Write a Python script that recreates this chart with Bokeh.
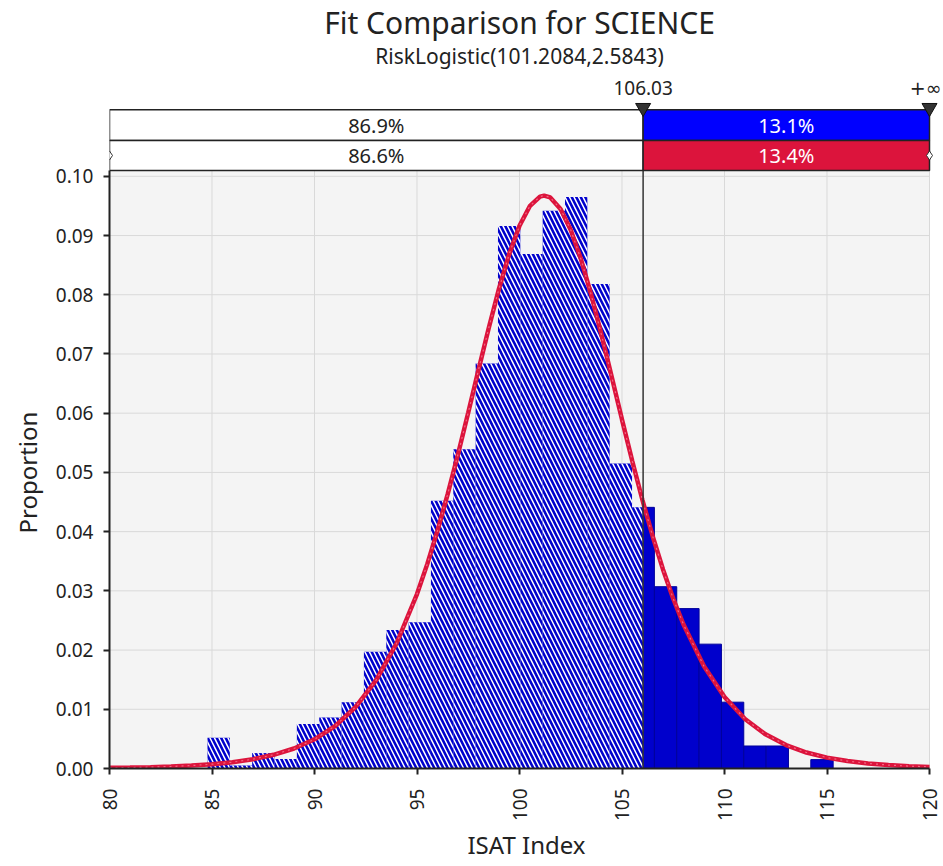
from math import pi
from bokeh.plotting import figure
from bokeh.models import Range1d, FixedTicker, NumeralTickFormatter, Label, Title
from bokeh.core.properties import value
from bokeh.embed import file_html
from bokeh.resources import INLINE

# ---------------- data ----------------
title_text = "Fit Comparison for SCIENCE"
subtitle_text = "RiskLogistic(101.2084,2.5843)"
x_label = "ISAT Index"
y_label = "Proportion"

cutoff = 106.03
cutoff_label = "106.03"
upper_label = "+\u221e"
data_pct = ["86.9%", "13.1%"]
fit_pct = ["86.6%", "13.4%"]

bin_first_edge = 84.78
bin_width = 1.09
bin_heights = [0.0052, 0.0005, 0.0026, 0.0016, 0.0075, 0.0086, 0.0112, 0.0197,
               0.0234, 0.0247, 0.0452, 0.0539, 0.0684, 0.0916, 0.0869, 0.0942,
               0.0965, 0.0818, 0.0515, 0.0441, 0.0307, 0.0270, 0.0210, 0.0112,
               0.0038, 0.0038, 0.0000, 0.0015]

curve_x = [80, 81, 82, 83, 84, 85, 86, 87, 88, 89, 90, 91, 92, 93, 94, 95, 95.5,
           96, 96.5, 97, 97.5, 98, 98.5, 99, 99.5, 100, 100.5, 101, 101.2, 101.5,
           102, 102.5, 103, 103.5, 104, 104.5, 105, 105.5, 106, 106.5, 107, 107.5,
           108, 109, 110, 111, 112, 113, 114, 115, 116, 117, 118, 119, 120]
curve_y = [0.00011, 0.00016, 0.00023, 0.00034, 0.00050, 0.00073, 0.00107, 0.00157,
           0.00231, 0.00338, 0.00493, 0.00717, 0.01037, 0.01489, 0.02111, 0.02945,
           0.03451, 0.04016, 0.04637, 0.05307, 0.06011, 0.06731, 0.07438, 0.08103,
           0.08690, 0.09164, 0.09495, 0.09658, 0.09674, 0.09643, 0.09450, 0.09094,
           0.08599, 0.07996, 0.07322, 0.06610, 0.05892, 0.05192, 0.04530, 0.03918,
           0.03362, 0.02867, 0.02431, 0.01725, 0.01207, 0.00837, 0.00577, 0.00396,
           0.00270, 0.00184, 0.00126, 0.00086, 0.00058, 0.00040, 0.00027]

x_ticks = [80, 85, 90, 95, 100, 105, 110, 115, 120]
y_ticks = [0.00, 0.01, 0.02, 0.03, 0.04, 0.05, 0.06, 0.07, 0.08, 0.09, 0.10]

# ---------------- styles / layout ----------------
FONT = "Noto Sans"
TXT = "#222222"
BLUE = "#0000cc"
RED = "#dc143c"
W, H = 943, 864
LEFT = 109                     # page x of value X0
RPAD = 14                      # px between value X1 and the canvas edge
DATA_W = W - LEFT - RPAD       # px from X0 to X1
FRAME_H = 773                  # frame spans page y 0..773
BOTTOM = H - FRAME_H
DATA_PX = 602                  # height of histogram area (page y 171..773)
X0, X1 = 80, 120
Y_TOP = 0.101
k = (X1 - X0) / DATA_W         # data units per px


def py(page_y):
    """page y (px from top) -> px units of the 'px' range (from frame bottom)"""
    return FRAME_H - page_y


p = figure(width=W, height=H, output_backend="svg", toolbar_location=None,
           x_range=Range1d(X0, X1 + RPAD * k), y_range=Range1d(0, Y_TOP * FRAME_H / DATA_PX),
           min_border_left=LEFT, min_border_right=0, min_border_top=0,
           min_border_bottom=BOTTOM)
p.extra_y_ranges = {"px": Range1d(0, FRAME_H)}
p.background_fill_color = "white"
p.border_fill_color = "white"
p.outline_line_color = None
p.xgrid.visible = False
p.ygrid.visible = False

# plot-area background and grid (from the tick lists)
p.quad(left=[X0], right=[X1], bottom=[0], top=[Y_TOP], fill_color="#f4f4f4", line_color=None)
GRID = "#d9d9d9"
p.segment(x0=x_ticks, x1=x_ticks, y0=[0] * len(x_ticks), y1=[Y_TOP] * len(x_ticks),
          line_color=GRID, line_width=1)
p.segment(x0=[X0] * len(y_ticks), x1=[X1] * len(y_ticks), y0=y_ticks, y1=y_ticks,
          line_color=GRID, line_width=1)

# histogram
lefts = [bin_first_edge + i * bin_width for i in range(len(bin_heights))]
rights = [l + bin_width for l in lefts]
hl, hr, hh, sl, sr, sh = [], [], [], [], [], []
for l, r, h in zip(lefts, rights, bin_heights):
    if h <= 0:
        continue
    if l < cutoff:
        hl.append(l); hr.append(min(r, cutoff)); hh.append(h)
    if r > cutoff:
        sl.append(max(l, cutoff)); sr.append(r); sh.append(h)

p.quad(left=hl, right=hr, bottom=0, top=hh, fill_color=BLUE, line_color=None,
       hatch_pattern="\\", hatch_color="white", hatch_weight=1.5, hatch_scale=9)
p.quad(left=sl, right=sr, bottom=0, top=sh, fill_color=BLUE, line_color="#00009a",
       line_width=1)

# fitted curve
p.line(curve_x, curve_y, line_color=RED, line_width=4.5)
p.line(curve_x, curve_y, line_color="#ff9fb0", line_width=1.2, line_dash="2 4", line_alpha=0.6)

# ---------------- top strip (px units) ----------------
r1t, r1b = py(110), py(141)
r2t, r2b = py(141), py(171)

p.segment(x0=[cutoff], x1=[cutoff], y0=[0], y1=[r1t], y_range_name="px",
          line_color="#333333", line_width=1.5)

p.quad(left=[X0, cutoff], right=[cutoff, X1], bottom=[r1b, r1b], top=[r1t, r1t],
       fill_color=["white", "#0000ff"], line_color="#222222", line_width=1.5,
       y_range_name="px")
p.quad(left=[X0, cutoff], right=[cutoff, X1], bottom=[r2b, r2b], top=[r2t, r2t],
       fill_color=["white", RED], line_color="#222222", line_width=1.5,
       y_range_name="px")
for pair, yb, yt in [(data_pct, r1b, r1t), (fit_pct, r2b, r2t)]:
    p.text(x=[(X0 + cutoff) / 2, (cutoff + X1) / 2], y=[(yb + yt) / 2] * 2, text=pair,
           text_align="center", text_baseline="middle", text_font_size="20px",
           text_font=value(FONT), text_color=[TXT, "white"], y_range_name="px")

p.scatter(x=[cutoff, X1], y=[py(108)] * 2, marker="inverted_triangle", size=15,
          fill_color="#333333", line_color="#111111", y_range_name="px")
p.scatter(x=[X0, X1], y=[(r2b + r2t) / 2] * 2, marker="diamond", size=9,
          fill_color="white", line_color="#333333", y_range_name="px")

mid_x = (X0 + X1) / 2
p.add_layout(Label(x=mid_x, y=py(22), text=title_text, text_align="center",
                   text_baseline="middle", text_font=FONT, text_font_size="30px",
                   text_color=TXT, y_range_name="px"))
p.add_layout(Label(x=mid_x, y=py(56), text=subtitle_text, text_align="center",
                   text_baseline="middle", text_font=FONT, text_font_size="21px",
                   text_color=TXT, y_range_name="px"))
p.add_layout(Label(x=cutoff, y=py(88), text=cutoff_label, text_align="center",
                   text_baseline="middle", text_font=FONT, text_font_size="19px",
                   text_color=TXT, y_range_name="px"))
p.add_layout(Label(x=X1 + (RPAD - 2) * k, y=py(88), text=upper_label, text_align="right",
                   text_baseline="middle", text_font="DejaVu Sans", text_font_size="19px",
                   text_color=TXT, y_range_name="px"))

# y-axis title (left panel), centred on the histogram area
p.add_layout(Title(text=y_label, align="left", offset=FRAME_H - 472 - 66,
                   vertical_align="middle", standoff=16, text_font=FONT,
                   text_font_size="24px", text_font_style="normal", text_color=TXT), "left")

# ---------------- axes ----------------
p.xaxis.ticker = FixedTicker(ticks=x_ticks)
p.yaxis.ticker = FixedTicker(ticks=y_ticks)
p.xaxis.bounds = (X0, X1)
p.yaxis.bounds = (0, Y_TOP)
p.yaxis.formatter = NumeralTickFormatter(format="0.00")
p.xaxis.major_label_orientation = pi / 2
for ax in (p.xaxis, p.yaxis):
    ax.axis_line_color = "#222222"
    ax.axis_line_width = 2
    ax.major_tick_line_color = "#222222"
    ax.major_tick_line_width = 2
    ax.major_tick_out = 6
    ax.major_tick_in = 0
    ax.minor_tick_line_color = None
    ax.major_label_text_font = FONT
    ax.major_label_text_font_size = "19px"
    ax.major_label_text_color = TXT
    ax.axis_label_text_font = FONT
    ax.axis_label_text_font_size = "24px"
    ax.axis_label_text_font_style = "normal"
    ax.axis_label_text_color = TXT
p.xaxis.axis_label = x_label
p.xaxis.major_label_standoff = 14
p.xaxis.axis_label_standoff = 4
p.yaxis.major_label_standoff = 10

open("out.html", "w").write(file_html(p, INLINE))
